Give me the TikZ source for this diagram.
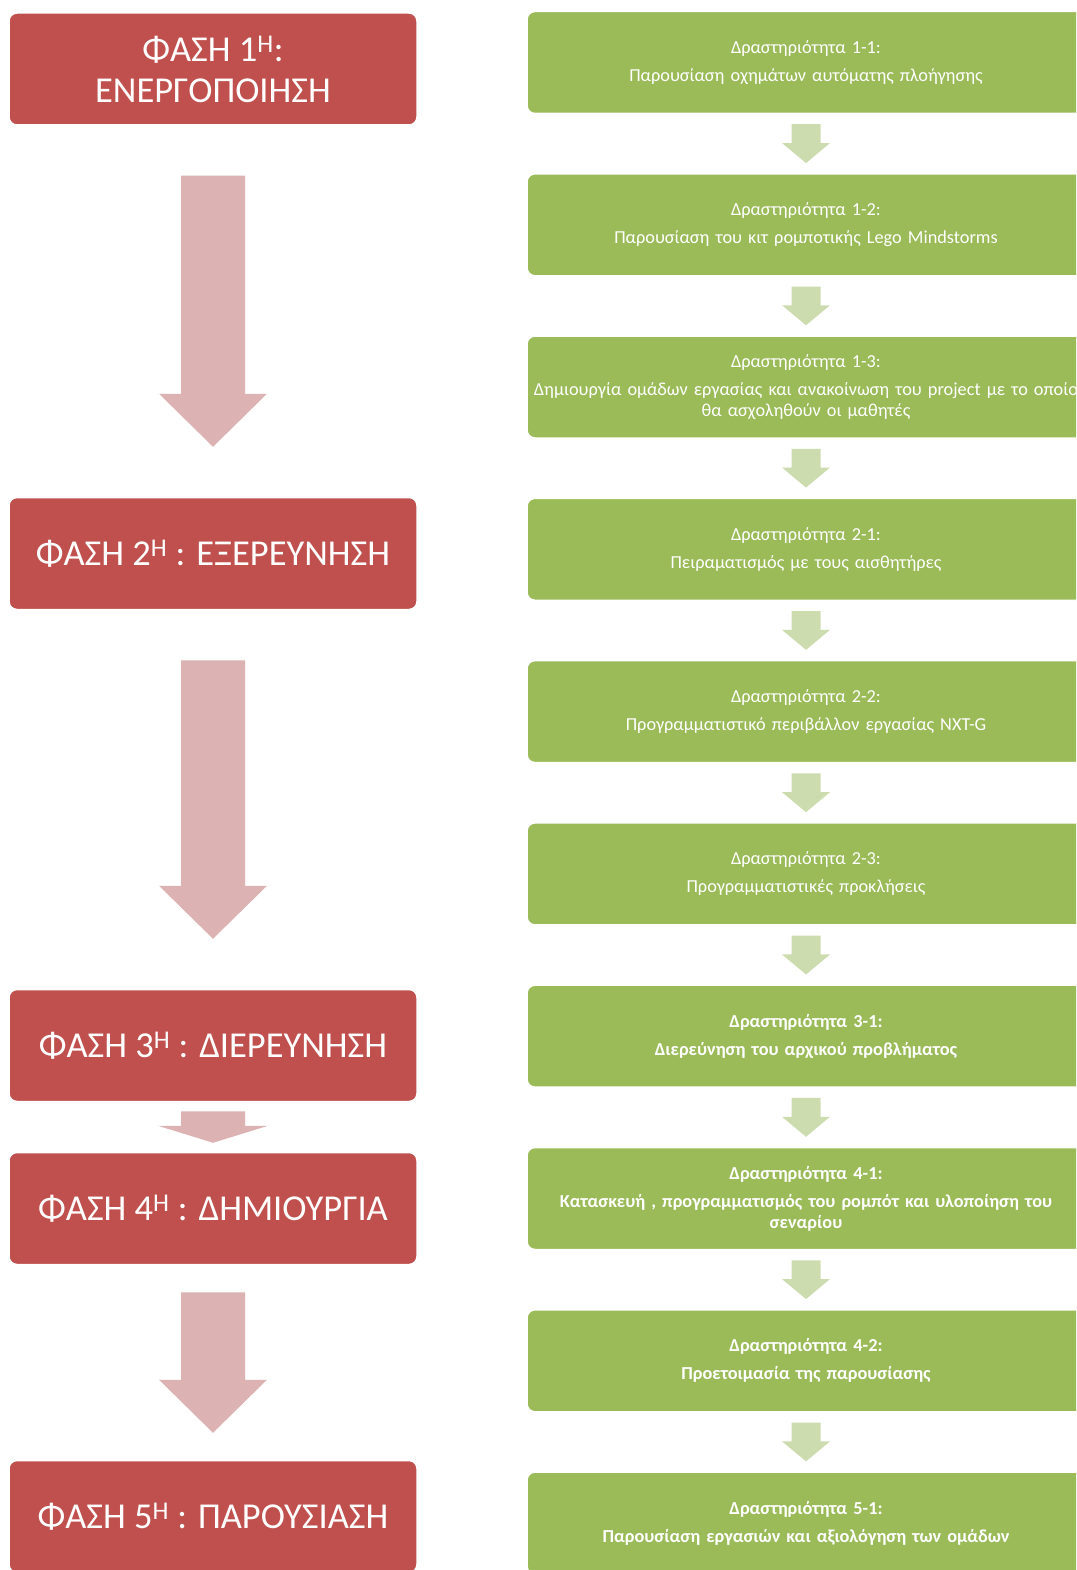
\documentclass[tikz,border=0pt]{standalone}
\usepackage{fontspec}
\setmainfont{Carlito}
\usetikzlibrary{calc}
\definecolor{phasered}{HTML}{C0504D}
\definecolor{phasepink}{HTML}{DCB2B2}
\definecolor{actgreen}{HTML}{9BBB59}
\definecolor{actlight}{HTML}{CDDCAE}
\newcommand\blockarr[7]{%
  \fill[#7] ($(#1.south)+(-#5,#3)$) -- ($(#1.south)+(#5,#3)$)
    -- ($(#2.north)+(#5,-#3-#4)$) -- ($(#2.north)+(#6,-#3-#4)$)
    -- ($(#2.north)+(0,-#3)$)
    -- ($(#2.north)+(-#6,-#3-#4)$) -- ($(#2.north)+(-#5,-#3-#4)$) -- cycle;}
\begin{document}
\begin{tikzpicture}[x=1pt,y=-1pt,
  phasebox/.style={fill=phasered, draw=white, line width=1.5pt, rounded corners=8pt,
    minimum width=408pt, minimum height=112pt, text=white, align=center,
    font=\fontsize{36.5}{41}\selectfont, inner sep=0pt},
  actbox/.style={fill=actgreen, draw=white, line width=1.5pt, rounded corners=8pt,
    minimum width=558pt, minimum height=102pt, text=white, align=center,
    text width=552pt, font=\fontsize{18.3}{21}\selectfont, inner sep=0pt},
  actboxb/.style={actbox, font=\fontsize{18.3}{21}\selectfont\bfseries}]
\useasboundingbox (0,0) rectangle (1076,1570);
\fill[white] (0,0) rectangle (1076,1570);
\clip (0,0) rectangle (1076,1570);

% phases
\node[phasebox] (p1) at (213,69) {ΦΑΣΗ 1\textsuperscript{Η}:\\ΕΝΕΡΓΟΠΟΙΗΣΗ};
\node[phasebox] (p2) at (213,553.5) {ΦΑΣΗ 2\textsuperscript{Η} : ΕΞΕΡΕΥΝΗΣΗ};
\node[phasebox] (p3) at (213,1045.5) {ΦΑΣΗ 3\textsuperscript{Η} : ΔΙΕΡΕΥΝΗΣΗ};
\node[phasebox] (p4) at (213,1208.5) {ΦΑΣΗ 4\textsuperscript{Η} : ΔΗΜΙΟΥΡΓΙΑ};
\node[phasebox] (p5) at (213,1516.5) {ΦΑΣΗ 5\textsuperscript{Η} : ΠΑΡΟΥΣΙΑΣΗ};

\blockarr{p1}{p2}{50}{53}{32}{54}{phasepink}
\blockarr{p2}{p3}{50}{53}{32}{54}{phasepink}
\blockarr{p3}{p4}{9}{17}{32}{55}{phasepink}
\blockarr{p4}{p5}{27}{53}{32}{54}{phasepink}

% activities
\node[actbox] (a1) at (806,62.5) {Δραστηριότητα 1-1:\\[7pt]Παρουσίαση οχημάτων αυτόματης πλοήγησης};
\node[actbox] (a2) at (806,224.8) {Δραστηριότητα 1-2:\\[7pt]Παρουσίαση του κιτ ρομποτικής Lego Mindstorms};
\node[actbox] (a3) at (806,387) {Δραστηριότητα 1-3:\\[7pt]Δημιουργία ομάδων εργασίας και ανακοίνωση του project με το οποίο\\θα ασχοληθούν οι μαθητές};
\node[actbox] (a4) at (806,549.3) {Δραστηριότητα 2-1:\\[7pt]Πειραματισμός με τους αισθητήρες};
\node[actbox] (a5) at (806,711.6) {Δραστηριότητα 2-2:\\[7pt]Προγραμματιστικό περιβάλλον εργασίας NXT-G};
\node[actbox] (a6) at (806,873.9) {Δραστηριότητα 2-3:\\[7pt]Προγραμματιστικές προκλήσεις};
\node[actboxb] (a7) at (806,1036.2) {Δραστηριότητα 3-1:\\[7pt]Διερεύνηση του αρχικού προβλήματος};
\node[actboxb] (a8) at (806,1198.5) {Δραστηριότητα 4-1:\\[7pt]Κατασκευή , προγραμματισμός του ρομπότ και υλοποίηση του\\σεναρίου};
\node[actboxb] (a9) at (806,1360.8) {Δραστηριότητα 4-2:\\[7pt]Προετοιμασία της παρουσίασης};
\node[actboxb] (a10) at (806,1523.1) {Δραστηριότητα 5-1:\\[7pt]Παρουσίαση εργασιών και αξιολόγηση των ομάδων};

\foreach \i/\j in {a1/a2,a2/a3,a3/a4,a4/a5,a5/a6,a6/a7,a7/a8,a8/a9,a9/a10}{
  \blockarr{\i}{\j}{10}{20}{14.5}{24}{actlight}
}
\end{tikzpicture}
\end{document}
